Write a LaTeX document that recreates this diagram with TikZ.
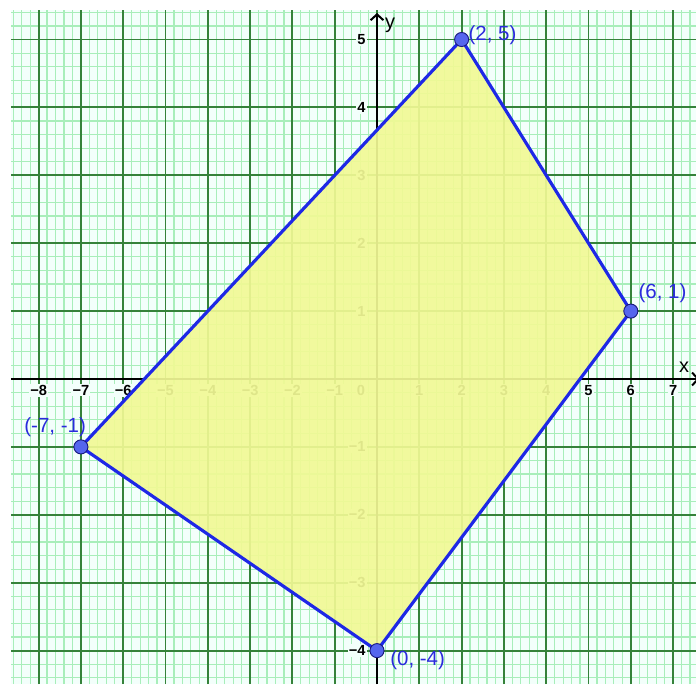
\documentclass[tikz,border=0pt]{standalone}
\usepackage{fontspec}
\setmainfont{Liberation Sans}
\usepackage{tikz}
\usetikzlibrary{arrows.meta}
\definecolor{paper}{HTML}{F3FFFB}
\definecolor{gridminor}{HTML}{A8EEBA}
\definecolor{gridmajor}{HTML}{35823A}
\definecolor{regionfill}{HTML}{F1F995}
\definecolor{edgeblue}{HTML}{1E28E6}
\definecolor{dotblue}{HTML}{5566EE}
\definecolor{dotrim}{HTML}{1A1A80}
\definecolor{labelblue}{HTML}{2A2ADC}

\begin{document}
\begin{tikzpicture}[
    x=1.269cm, y=2.037cm,
    minorline/.style={draw=gridminor, line width=1pt},
    majorline/.style={draw=gridmajor, line width=1.6pt},
    axisline/.style={draw=black, line width=1.7pt},
    ticklabel/.style={
        font=\fontsize{12.5}{13}\selectfont\bfseries, text=black,
        fill=paper, inner sep=1pt,
    },
    axisname/.style={font=\fontsize{17}{18}\selectfont, text=black, inner sep=0pt},
    region/.style={fill=regionfill, fill opacity=0.92},
    edge/.style={draw=edgeblue, line width=2.7pt, line join=round},
    vertex/.style={
        circle, fill=dotblue, draw=dotrim, line width=0.8pt,
        minimum size=12pt, inner sep=0pt,
    },
    ptlabel/.style={font=\fontsize{17.5}{19}\selectfont, text=labelblue, inner sep=0pt},
]

% ── Frame ───────────────────────────────────────────────────────────────────
\def\xmin{-8.913}
\def\xmax{7.541}
\def\ymin{-4.492}
\def\ymax{5.582}
\def\gx{-8.65}
\def\gy{5.435}

\useasboundingbox (\xmin,\ymin) rectangle (\xmax,\ymax);
\clip (\xmin,\ymin) rectangle (\xmax,\ymax);
\fill[white] (\xmin,\ymin) rectangle (\xmax,\ymax);
\fill[paper] (\gx,\ymin) rectangle (\xmax,\gy);

% ── Graph paper ─────────────────────────────────────────────────────────────
\begin{scope}
    \clip (\gx,\ymin) rectangle (\xmax,\gy);
    \foreach \i in {-44,...,38} {
        \draw[minorline] (\i/5,\ymin) -- (\i/5,\gy);
    }
    \foreach \j in {-23,...,28} {
        \draw[minorline] (\gx,\j/5) -- (\xmax,\j/5);
    }
    \foreach \i in {-8,...,7} {
        \draw[majorline] (\i,\ymin) -- (\i,\gy);
    }
    \foreach \j in {-4,...,5} {
        \draw[majorline] (\gx,\j) -- (\xmax,\j);
    }
\end{scope}

% ── Axes ────────────────────────────────────────────────────────────────────
\coordinate (xs) at (\gx,0);
\coordinate (xe) at (7.62,0);
\coordinate (ys) at (0,\ymin);
\coordinate (ye) at (0,5.39);
\draw[axisline, -{Straight Barb[length=5pt,width=11pt]}] (xs) -- (xe);
\draw[axisline, -{Straight Barb[length=5pt,width=11pt]}] (ys) -- (ye);

\node[axisname] (xname) at (7.26,0.18) {x};
\node[axisname] (yname) at (0.31,5.21) {y};

% ── Tick labels ─────────────────────────────────────────────────────────────
\foreach \k in {-8,...,-1,1,2,...,7} {
    \node[ticklabel, anchor=north] (xl\k) at (\k,-0.07)
        {\ifnum\k<0 −\the\numexpr-\k\relax\else\k\fi};
}
\foreach \k in {-4,...,-1,1,2,...,5} {
    \node[ticklabel, anchor=east] (yl\k) at (-0.24,\k)
        {\ifnum\k<0 −\the\numexpr-\k\relax\else\k\fi};
}
\node[ticklabel, anchor=north east] (zero) at (-0.25,-0.07) {0};

% ── Feasible region ─────────────────────────────────────────────────────────
\coordinate (A) at (2,5);
\coordinate (B) at (6,1);
\coordinate (C) at (0,-4);
\coordinate (D) at (-7,-1);

\fill[region] (A) -- (B) -- (C) -- (D) -- cycle;
\draw[edge] (A) -- (B) -- (C) -- (D) -- cycle;

\node[vertex] (pA) at (A) {};
\node[vertex] (pB) at (B) {};
\node[vertex] (pC) at (C) {};
\node[vertex] (pD) at (D) {};

\node[ptlabel] (lA) at (2.73,5.07)   {(2, 5)};
\node[ptlabel] (lB) at (6.75,1.27)   {(6, 1)};
\node[ptlabel] (lC) at (0.96,-4.14)  {(0, -4)};
\node[ptlabel] (lD) at (-7.61,-0.71) {(-7, -1)};

\end{tikzpicture}
\end{document}
